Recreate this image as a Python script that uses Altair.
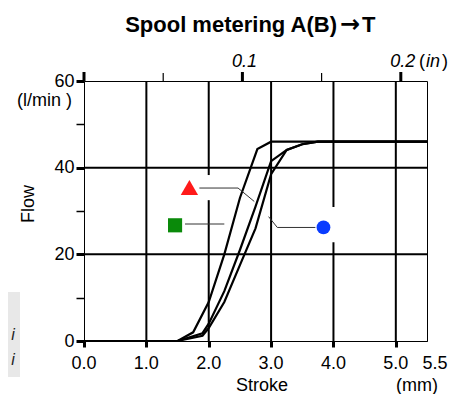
import altair as alt
import pandas as pd

# ---------------- data ----------------
stroke_left = [0, 1.5, 1.75, 2.0, 2.25, 2.5, 2.78, 3.0, 5.5]
flow_left = [0, 0, 2.0, 9.0, 20, 33, 44.3, 46, 46]

stroke_mid = [0, 1.5, 1.9, 2.0, 2.25, 2.5, 2.75, 3.0, 3.25, 3.5, 3.75, 5.5]
flow_mid = [0, 0, 1.8, 4.0, 11.5, 21, 31, 41.5, 44.1, 45.4, 46, 46]

stroke_right = [0, 1.5, 1.9, 2.0, 2.25, 2.5, 2.75, 3.0, 3.25, 3.5, 3.75, 5.5]
flow_right = [0, 0, 1.2, 3.0, 9.0, 17.5, 26, 38.5, 44.1, 45.4, 46, 46]

x_ticks = [0, 0.5, 1, 1.5, 2, 2.5, 3, 3.5, 4, 4.5, 5, 5.5]
x_label_vals = [0, 1, 2, 3, 4, 5]
x_labels = ["0.0", "1.0", "2.0", "3.0", "4.0", "5.0"]
x_end_val = [5.5]
x_end_label = ["5.5"]
y_ticks = [0, 10, 20, 30, 40, 50, 60]
grid_x = [1, 2, 3, 4, 5]
grid_y = [20, 40]

inch_major = [0.0, 0.1, 0.2]
inch_minor = [0.05, 0.15]
inch_labels = ["0.1", "0.2"]
inch_label_vals = [0.1, 0.2]
MM_PER_IN = 25.4

# annotation markers and leaders
marker_color = ["#ff1a1a", "#0a8a0a", "#0a3cff"]
marker_x = [1.69, 1.46, 3.84]
marker_y = [35.4, 26.7, 26.2]

tri_leader_x = [1.85, 2.47, 2.73]
tri_leader_y = [35.3, 35.3, 32.2]
sq_leader_x = [1.62, 2.25]
sq_leader_y = [27.0, 27.0]
circ_leader_x = [3.71, 3.10, 2.96]
circ_leader_y = [26.2, 26.2, 28.7]

# white boxes behind labels (break the grid)
box_x = [1.55, 3.62]
box_x2 = [2.05, 4.10]
box_y = [32.5, 22.8]
box_y2 = [38.3, 30.9]

FONT = "Liberation Sans"

# ---------------- frames ----------------
curves = pd.concat([
    pd.DataFrame({"stroke": stroke_left, "flow": flow_left, "curve": "a", "o": range(len(stroke_left))}),
    pd.DataFrame({"stroke": stroke_mid, "flow": flow_mid, "curve": "b", "o": range(len(stroke_mid))}),
    pd.DataFrame({"stroke": stroke_right, "flow": flow_right, "curve": "c", "o": range(len(stroke_right))}),
])
leaders = pd.concat([
    pd.DataFrame({"x": tri_leader_x, "y": tri_leader_y, "g": "t", "o": range(3)}),
    pd.DataFrame({"x": sq_leader_x, "y": sq_leader_y, "g": "s", "o": range(2)}),
    pd.DataFrame({"x": circ_leader_x, "y": circ_leader_y, "g": "c", "o": range(3)}),
])
markers = pd.DataFrame({"x": marker_x, "y": marker_y})
boxes = pd.DataFrame({"x": box_x, "x2": box_x2, "y": box_y, "y2": box_y2})

xs = alt.Scale(domain=[0, 5.5], nice=False, zero=False)
ys = alt.Scale(domain=[0, 60], nice=False, zero=False)

x_axis = alt.Axis(
    values=x_ticks, title=None, grid=False, labels=False,
    tickSize=6, tickColor="black",
    tickWidth={"condition": {"test": "datum.value % 1 === 0", "value": 3}, "value": 1.5},
    domainColor="black", domainWidth=1,
)
y_axis = alt.Axis(
    values=y_ticks, title=None, grid=False,
    labelExpr="datum.value % 20 === 0 ? format(datum.value, 'd') : ''",
    labelFont=FONT, labelFontSize=18, labelColor="black", labelPadding=2,
    labelOverlap=False, labelFlush=False,
    tickSize=8, tickColor="black",
    tickWidth={"condition": {"test": "datum.value % 20 === 0", "value": 3}, "value": 1.5},
    domainColor="black", domainWidth=1,
)

base_axes = alt.Chart(pd.DataFrame({"x": [0.0], "y": [0.0]})).mark_point(opacity=0).encode(
    x=alt.X("x:Q", scale=xs, axis=x_axis),
    y=alt.Y("y:Q", scale=ys, axis=y_axis),
)

vgrid = alt.Chart(pd.DataFrame({"x": grid_x})).mark_rule(color="black", strokeWidth=2).encode(
    x=alt.X("x:Q", scale=xs), y=alt.value(0), y2=alt.value(260))
hgrid = alt.Chart(pd.DataFrame({"y": grid_y})).mark_rule(color="black", strokeWidth=2).encode(
    y=alt.Y("y:Q", scale=ys), x=alt.value(0), x2=alt.value(343))

box_layer = alt.Chart(boxes).mark_rect(color="white").encode(
    x=alt.X("x:Q", scale=xs), x2="x2:Q", y=alt.Y("y:Q", scale=ys), y2="y2:Q")

curve_layer = alt.Chart(curves).mark_line(color="black", strokeWidth=2.2, strokeJoin="miter").encode(
    x=alt.X("stroke:Q", scale=xs), y=alt.Y("flow:Q", scale=ys), detail="curve:N", order="o:Q")

leader_layer = alt.Chart(leaders).mark_line(color="#333333", strokeWidth=1).encode(
    x=alt.X("x:Q", scale=xs), y=alt.Y("y:Q", scale=ys), detail="g:N", order="o:Q")

tri = alt.Chart(markers.iloc[[0]]).mark_point(shape="triangle-up", filled=True, size=300, opacity=1,
                                              color=marker_color[0]).encode(
    x=alt.X("x:Q", scale=xs), y=alt.Y("y:Q", scale=ys))
sq = alt.Chart(markers.iloc[[1]]).mark_point(shape="square", filled=True, size=200, opacity=1,
                                             color=marker_color[1]).encode(
    x=alt.X("x:Q", scale=xs), y=alt.Y("y:Q", scale=ys))
circ = alt.Chart(markers.iloc[[2]]).mark_point(shape="circle", filled=True, size=190, opacity=1,
                                               color=marker_color[2]).encode(
    x=alt.X("x:Q", scale=xs), y=alt.Y("y:Q", scale=ys))

# bottom labels
xlab = alt.Chart(pd.DataFrame({"v": x_label_vals, "t": x_labels})).mark_text(
    font=FONT, fontSize=18, align="center", baseline="middle", color="black").encode(
    x=alt.X("v:Q", scale=xs), y=alt.value(283), text="t:N")
xlab_end = alt.Chart(pd.DataFrame({"v": x_end_val, "t": x_end_label})).mark_text(
    font=FONT, fontSize=18, align="center", baseline="middle", color="black", dx=8).encode(
    x=alt.X("v:Q", scale=xs), y=alt.value(283), text="t:N")

# top inch axis
top_major = alt.Chart(pd.DataFrame({"mm": [v * MM_PER_IN for v in inch_major]})).mark_rule(
    color="black", strokeWidth=3).encode(x=alt.X("mm:Q", scale=xs), y=alt.value(-9), y2=alt.value(0))
top_minor = alt.Chart(pd.DataFrame({"mm": [v * MM_PER_IN for v in inch_minor]})).mark_rule(
    color="black", strokeWidth=1.2).encode(x=alt.X("mm:Q", scale=xs), y=alt.value(-8), y2=alt.value(0))
top_labels = alt.Chart(pd.DataFrame({"mm": [v * MM_PER_IN for v in inch_label_vals], "t": inch_labels})).mark_text(
    font=FONT, fontSize=18, fontStyle="italic", align="center", baseline="middle", color="black", dx=2).encode(
    x=alt.X("mm:Q", scale=xs), y=alt.value(-19), text="t:N")

def txt(s, x, y, **kw):
    params = dict(font=FONT, fontSize=18, color="black", align="center", baseline="middle")
    params.update(kw)
    return alt.Chart(pd.DataFrame({"t": [s]})).mark_text(**params).encode(
        x=alt.value(x), y=alt.value(y), text="t:N")

texts = [
    txt("Spool metering A(B)", 253, -56, fontSize=22, fontWeight="bold", align="right"),
    txt("\u2192", 266, -56, fontSize=24, fontWeight="bold", font="DejaVu Sans"),
    txt("T", 278, -56, fontSize=22, fontWeight="bold", align="left"),
    txt("(", 335, -19, align="left"),
    txt("in", 342, -19, align="left", fontStyle="italic"),
    txt(")", 358, -19, align="left"),
    txt("(l/min )", -12, 20, align="right"),
    txt("Flow", -55, 123, angle=270),
    txt("Stroke", 178, 305),
    txt("(mm)", 333, 305),
]

gray_box = alt.Chart(pd.DataFrame({"a": [0]})).mark_rect(color="#e8e8e8").encode(
    x=alt.value(-84), x2=alt.value(-64), y=alt.value(211), y2=alt.value(296))
gray_i = alt.Chart(pd.DataFrame({"t": ["i", "i"], "yy": [254, 279]})).mark_text(
    font=FONT, fontSize=16, fontStyle="italic", color="#222222", align="center", baseline="middle").encode(
    x=alt.value(-71), y=alt.Y("yy:Q", scale=None), text="t:N")

chart = alt.layer(
    base_axes, vgrid, hgrid, box_layer, curve_layer, leader_layer, tri, sq, circ,
    xlab, xlab_end, top_major, top_minor, top_labels, gray_box, gray_i, *texts
).properties(
    width=343, height=260,
    autosize=alt.AutoSizeParams(type="none"),
    padding={"left": 76, "top": 73, "right": 23, "bottom": 53},
).configure_view(stroke="black", strokeWidth=1)

chart.save("out.html", embed_options={"renderer": "svg", "actions": False})
